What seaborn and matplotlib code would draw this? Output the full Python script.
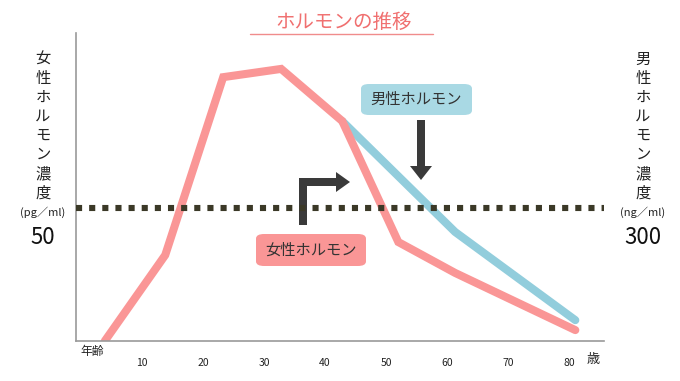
import matplotlib
matplotlib.use("Agg")
import matplotlib.pyplot as plt
import seaborn as sns
import pandas as pd
from matplotlib.patches import FancyBboxPatch, Polygon
from matplotlib.lines import Line2D

# ---- data ----
female_ages = [3.9, 13.8, 23.3, 32.8, 42.8, 52.0, 61.3, 81.0]
female_level = [0, 32.3, 99.2, 102.3, 82.7, 37.2, 25.6, 4.1]   # pg/ml
male_ages = [42.8, 61.3, 81.0]
male_level = [496, 246, 47]                                      # ng/ml
ref_female = 50
ref_male = 300
age_ticks = [10, 20, 30, 40, 50, 60, 70, 80]
title = "ホルモンの推移"
left_label = "女性ホルモン濃度"
right_label = "男性ホルモン濃度"
left_unit = "(pg／ml)"
right_unit = "(ng／ml)"
female_name = "女性ホルモン"
male_name = "男性ホルモン"

sns.set_style("white")
plt.rcParams['font.family'] = ['Noto Sans CJK JP', 'DejaVu Sans']

W, H = 680, 381
fig = plt.figure(figsize=(W / 100, H / 100), dpi=100)

def P(x, y):
    return (x / W, 1 - y / H)

ax_l, ax_r, ax_t, ax_b = 76, 604, 33, 341
ax = fig.add_axes([ax_l / W, 1 - ax_b / H, (ax_r - ax_l) / W, (ax_b - ax_t) / H])
ax2 = ax.twinx()

PINK = "#FA9696"
BLUE = "#92CDDC"
DOT = "#3B3927"

df_f = pd.DataFrame({"age": female_ages, "level": female_level})
df_m = pd.DataFrame({"age": male_ages, "level": male_level})

sns.lineplot(data=df_m, x="age", y="level", ax=ax2, color=BLUE, linewidth=5.8,
             solid_capstyle="round", solid_joinstyle="miter")
sns.lineplot(data=df_f, x="age", y="level", ax=ax, color=PINK, linewidth=5.8,
             solid_capstyle="round", solid_joinstyle="miter")
ax.axhline(ref_female, color=DOT, linewidth=4.4, linestyle=(0, (1, 1.15)),
           dash_capstyle="butt", zorder=5)

xmin, xmax = -0.82, 85.7
ymax_f = 115.8
for a in (ax, ax2):
    a.set_xlim(xmin, xmax)
    a.set_xticks([])
    a.set_yticks([])
    a.set_xlabel("")
    a.set_ylabel("")
ax.set_ylim(0, ymax_f)
ax2.set_ylim(0, ymax_f * ref_male / ref_female)
ax.set_zorder(ax2.get_zorder() + 1)
ax.patch.set_visible(False)

for a in (ax, ax2):
    for s in a.spines.values():
        s.set_visible(False)
ax.spines["left"].set_visible(True)
ax.spines["bottom"].set_visible(True)
ax.spines["left"].set_color("#9a9a9a")
ax.spines["bottom"].set_color("#9a9a9a")
ax.spines["left"].set_linewidth(1.2)
ax.spines["bottom"].set_linewidth(1.2)

# age tick labels
for t in age_ticks:
    ax.text(t, -0.055, str(t), transform=ax.get_xaxis_transform(), ha="center",
            va="top", fontsize=7.5, color="#222222")
fig.text(*P(593, 360), "歳", ha="center", va="center", fontsize=9.5, color="#222222")
fig.text(*P(92, 352), "年齢", ha="center", va="center", fontsize=8.5, color="#222222")

# title
fig.text(*P(344, 22), title, ha="center", va="center", fontsize=14, color="#F07070")
fig.add_artist(Line2D([250 / W, 433 / W], [1 - 34 / H, 1 - 34 / H], color="#F08C8C", linewidth=1))

# vertical axis labels
for xc, lab, unit, val in ((43, left_label, left_unit, ref_female),
                           (643, right_label, right_unit, ref_male)):
    fig.text(*P(xc, 126), "\n".join(lab), ha="center", va="center", fontsize=11,
             linespacing=1.16, color="#222222")
    fig.text(*P(xc, 212), unit, ha="center", va="center", fontsize=8, color="#222222")
    fig.text(*P(xc, 237), str(val), ha="center", va="center", fontsize=16, color="#111111")

# label boxes
def label_box(x0, y0, x1, y1, color, text):
    box = FancyBboxPatch(((x0) / W, 1 - y1 / H), (x1 - x0) / W, (y1 - y0) / H,
                         boxstyle="round,pad=0,rounding_size=0.012",
                         transform=fig.transFigure, facecolor=color, edgecolor="none")
    fig.add_artist(box)
    fig.text(*P((x0 + x1) / 2, (y0 + y1) / 2), text, ha="center", va="center",
             fontsize=11, color="#333333")

label_box(361, 84, 472, 115, "#A9D9E4", male_name)
label_box(256, 234, 366, 266, "#FA9696", female_name)

# arrows
ARR = "#3A3A3A"
down = [(417, 120), (425, 120), (425, 166), (432, 166), (421, 180), (410, 166), (417, 166)]
bent = [(299, 225), (307, 225), (307, 186), (336, 186), (336, 192), (350, 182),
        (336, 172), (336, 178), (299, 178)]
for poly in (down, bent):
    fig.add_artist(Polygon([P(x, y) for x, y in poly], closed=True,
                           transform=fig.transFigure, facecolor=ARR, edgecolor="none"))

fig.savefig("out.png", dpi=100)
